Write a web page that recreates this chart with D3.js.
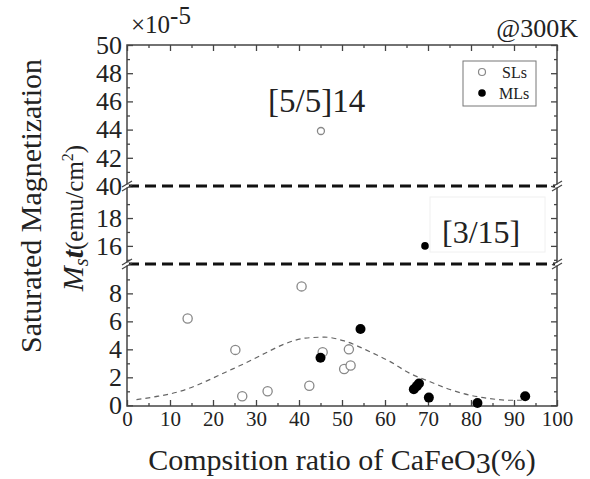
<!DOCTYPE html>
<html>
<head>
<meta charset="utf-8">
<script src="https://cdn.jsdelivr.net/npm/d3@7"></script>
<style>
  body { margin: 0; background: #fff; }
  svg { font-family: "Liberation Serif", "DejaVu Serif", serif; }
</style>
</head>
<body>
<svg id="chart" width="590" height="479"></svg>
<script>
// values
var slX = [14.1, 25.2, 26.8, 32.7, 40.6, 42.4, 45.5, 50.5, 51.6, 52.0, 45.1];
var slY = [6.2, 3.96, 0.65, 1.0, 8.5, 1.4, 3.8, 2.6, 4.0, 2.85, 43.9];
var mlX = [45.0, 54.3, 66.7, 67.4, 67.9, 70.2, 81.5, 92.6, 69.3];
var mlY = [3.4, 5.45, 1.15, 1.37, 1.56, 0.55, 0.17, 0.65, 16.0];
var fitX = [2.2, 7.3, 12.7, 18.1, 22.8, 27.4, 32.1, 36.7, 41.4, 46.0, 50.3, 56.5, 61.2, 65.8, 70.5, 75.1, 79.8, 84.4, 89.1, 91.8];
var fitY = [0.41, 0.65, 1.03, 1.68, 2.35, 3.0, 3.72, 4.39, 4.8, 4.87, 4.62, 3.83, 3.12, 2.28, 1.68, 1.13, 0.72, 0.48, 0.36, 0.36];
var xMajor = [0, 10, 20, 30, 40, 50, 60, 70, 80, 90, 100];
var yBotTicks = [0, 2, 4, 6, 8];
var yMidTicks = [16, 18];
var yTopTicks = [40, 42, 44, 46, 48, 50];

var svg = d3.select("#chart");
var L = 127, R = 557, T = 45, B = 406;
var brk1 = 186, brk2 = 264;
var ink = "#222", frame = "#444";

var x = d3.scaleLinear().domain([0, 100]).range([L, R]);
var yBot = d3.scaleLinear().domain([-0.05, 10.1]).range([B, brk2]);
var yMid = d3.scaleLinear().domain([14.7, 20.3]).range([brk2, brk1]);
var yTop = d3.scaleLinear().domain([40, 50]).range([brk1, T]);
function y(v) { return v >= 40 ? yTop(v) : (v >= 14.7 ? yMid(v) : yBot(v)); }

function styleAxis(g, fs) {
  g.select(".domain").remove();
  g.selectAll("line").attr("stroke", frame).attr("stroke-width", 1.3);
  g.selectAll("text").attr("fill", ink).style("font-size", fs + "px")
    .style("font-family", "Liberation Serif");
}

// x axes
var gx = svg.append("g").attr("transform", "translate(0," + B + ")")
  .call(d3.axisBottom(x).tickValues(xMajor).tickSize(-6).tickPadding(5).tickFormat(d3.format("d")));
styleAxis(gx, 21);
svg.append("g").attr("transform", "translate(0," + B + ")")
  .call(d3.axisBottom(x).tickValues(d3.range(5, 100, 10)).tickSize(-3).tickFormat(""))
  .call(styleAxis, 1);
svg.append("g").attr("transform", "translate(0," + T + ")")
  .call(d3.axisTop(x).tickValues(xMajor).tickSize(-6).tickFormat(""))
  .call(styleAxis, 1);
svg.append("g").attr("transform", "translate(0," + T + ")")
  .call(d3.axisTop(x).tickValues(d3.range(5, 100, 10)).tickSize(-3).tickFormat(""))
  .call(styleAxis, 1);

// y axes (three segments), left with labels, right ticks only
function yAxes(scale, major, minor) {
  svg.append("g").attr("transform", "translate(" + L + ",0)")
    .call(d3.axisLeft(scale).tickValues(major).tickSize(-6).tickPadding(5).tickFormat(d3.format("d")))
    .call(styleAxis, 26);
  svg.append("g").attr("transform", "translate(" + L + ",0)")
    .call(d3.axisLeft(scale).tickValues(minor).tickSize(-3).tickFormat(""))
    .call(styleAxis, 1);
  svg.append("g").attr("transform", "translate(" + R + ",0)")
    .call(d3.axisRight(scale).tickValues(major).tickSize(-6).tickFormat(""))
    .call(styleAxis, 1);
  svg.append("g").attr("transform", "translate(" + R + ",0)")
    .call(d3.axisRight(scale).tickValues(minor).tickSize(-3).tickFormat(""))
    .call(styleAxis, 1);
}
yAxes(yBot, yBotTicks, [1, 3, 5, 7, 9]);
yAxes(yMid, yMidTicks, [15, 17, 19]);
yAxes(yTop, yTopTicks, [41, 43, 45, 47, 49]);

// frame
svg.append("rect").attr("x", L).attr("y", T).attr("width", R - L).attr("height", B - T)
  .attr("fill", "none").attr("stroke", frame).attr("stroke-width", 1.5);

// break lines
[brk1, brk2].forEach(function (yy) {
  svg.append("line").attr("x1", L + 1).attr("x2", R - 1).attr("y1", yy).attr("y2", yy)
    .attr("stroke", "#111").attr("stroke-width", 3).attr("stroke-dasharray", "11,6");
  [L, R].forEach(function (xx) {
    svg.append("rect").attr("x", xx - 2).attr("y", yy - 1.5).attr("width", 4).attr("height", 3).attr("fill", "#fff");
    [-2, 2].forEach(function (o) {
      svg.append("line").attr("x1", xx - 5).attr("x2", xx + 5).attr("y1", yy + o + 3).attr("y2", yy + o - 3)
        .attr("stroke", frame).attr("stroke-width", 1.2);
    });
  });
});

// label box for [3/15]
svg.append("rect").attr("x", 430).attr("y", 197).attr("width", 115).attr("height", 55)
  .attr("fill", "#fff").attr("stroke", "#f0f0f0");

// fit curve
var fit = fitX.map(function (d, i) { return [d, fitY[i]]; });
svg.append("path").datum(fit)
  .attr("d", d3.line().x(function (d) { return x(d[0]); }).y(function (d) { return y(d[1]); }).curve(d3.curveMonotoneX))
  .attr("fill", "none").attr("stroke", "#666").attr("stroke-width", 1.2).attr("stroke-dasharray", "5,4");

// points
var sl = slX.map(function (d, i) { return [d, slY[i]]; });
var ml = mlX.map(function (d, i) { return [d, mlY[i]]; });
svg.append("g").selectAll("circle").data(sl).enter().append("circle")
  .attr("cx", function (d) { return x(d[0]); }).attr("cy", function (d) { return y(d[1]); })
  .attr("r", function (d) { return d[1] > 10 ? 3.5 : 4.6; })
  .attr("fill", "#fff").attr("stroke", "#888").attr("stroke-width", 1.3);
svg.append("g").selectAll("circle").data(ml).enter().append("circle")
  .attr("cx", function (d) { return x(d[0]); }).attr("cy", function (d) { return y(d[1]); })
  .attr("r", function (d) { return d[1] > 10 ? 3.8 : 5; })
  .attr("fill", "#000");

// annotations
svg.append("text").attr("x", 268).attr("y", 112).attr("fill", ink).style("font-size", "33px").text("[5/5]14");
svg.append("text").attr("x", 442).attr("y", 243).attr("fill", ink).style("font-size", "32px").text("[3/15]");
svg.append("text").attr("x", 578).attr("y", 37).attr("text-anchor", "end").attr("fill", ink).style("font-size", "26px").text("@300K");
var sc = svg.append("text").attr("x", 131).attr("y", 33).attr("fill", ink).style("font-size", "25px");
sc.append("tspan").text("\u00d710");
sc.append("tspan").attr("dy", -9).text("-5");

// legend
svg.append("rect").attr("x", 463).attr("y", 61).attr("width", 73).attr("height", 45)
  .attr("fill", "#fff").attr("stroke", "#777").attr("stroke-width", 1);
svg.append("circle").attr("cx", 482).attr("cy", 72).attr("r", 3.5).attr("fill", "#fff").attr("stroke", "#888").attr("stroke-width", 1.2);
svg.append("circle").attr("cx", 482).attr("cy", 93).attr("r", 3.8).attr("fill", "#000");
svg.append("text").attr("x", 502).attr("y", 78).attr("fill", ink).style("font-size", "16px").text("SLs");
svg.append("text").attr("x", 499).attr("y", 99).attr("fill", ink).style("font-size", "16px").text("MLs");

// axis titles
var xt = svg.append("text").attr("x", 342).attr("y", 470).attr("text-anchor", "middle").attr("fill", ink).style("font-size", "30px");
xt.append("tspan").text("Compsition ratio of CaFeO");
xt.append("tspan").attr("dy", 3).text("3");
xt.append("tspan").attr("dy", -3).text("(%)");

svg.append("text").attr("transform", "translate(41,206) rotate(-90)").attr("text-anchor", "middle")
  .attr("fill", ink).style("font-size", "30px").text("Saturated Magnetization");
var yt = svg.append("text").attr("transform", "translate(83,218) rotate(-90)").attr("text-anchor", "middle")
  .attr("fill", ink).style("font-size", "25px");
yt.append("tspan").style("font-style", "italic").style("font-size", "30px").text("M");
yt.append("tspan").style("font-style", "italic").attr("dy", 5).style("font-size", "20px").text("s");
yt.append("tspan").style("font-style", "italic").style("font-weight", "bold").attr("dy", -5).style("font-size", "30px").text("t");
yt.append("tspan").text("(emu/cm");
yt.append("tspan").attr("dy", -10).style("font-size", "16px").text("2");
yt.append("tspan").attr("dy", 10).text(")");
</script>
</body>
</html>
